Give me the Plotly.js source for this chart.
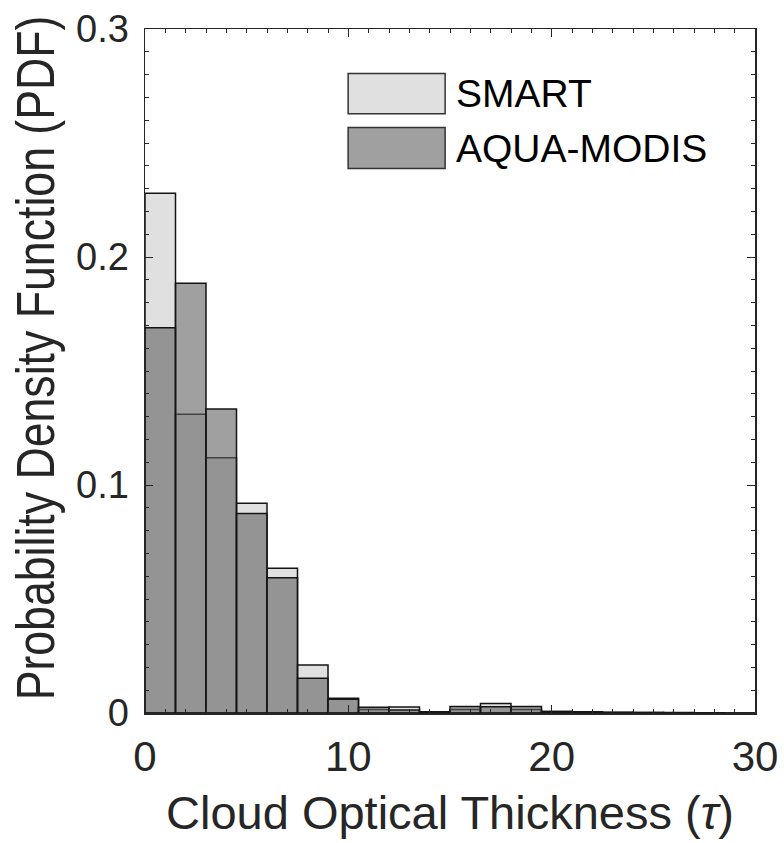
<!DOCTYPE html>
<html>
<head>
<meta charset="utf-8">
<script src="https://cdn.plot.ly/plotly-3.0.1.min.js"></script>
<style>
  html, body { margin: 0; padding: 0; background: #fff; }
  #chart { width: 784px; height: 843px; }
</style>
</head>
<body>
<div id="chart"></div>
<script>
// Histogram bins of cloud optical thickness (bin width 1.5, centres)
const tauBins = [0.75, 2.25, 3.75, 5.25, 6.75, 8.25, 9.75, 11.25, 12.75, 14.25,
                 15.75, 17.25, 18.75, 20.25, 21.75, 23.25, 24.75, 26.25, 27.75, 29.25];
const binWidth = 1.5;

// Probability density per bin
const smartPdf = [0.228, 0.131, 0.112, 0.092, 0.0635, 0.021, 0.0065, 0.0015, 0.0026, 0.0005,
                  0.0015, 0.0042, 0.0015, 0.0007, 0.0006, 0.0003, 0.0002, 0.0002, 0.0001, 0];
const modisPdf = [0.169, 0.1885, 0.1333, 0.0875, 0.0593, 0.0152, 0.006, 0.0025, 0.0013, 0.0005,
                  0.0028, 0.0027, 0.0028, 0.0007, 0.0006, 0.0002, 0.0002, 0.0001, 0.0001, 0];

const seriesNames = ['SMART', 'AQUA-MODIS'];
const xTicks = [0, 10, 20, 30];
const yTicks = [0, 0.1, 0.2, 0.3];

const ink = '#262626';
const fills = ['rgba(203,203,203,0.6)', 'rgba(97,97,97,0.6)'];
const edge = 'rgba(20,20,20,1)';

const traces = [smartPdf, modisPdf].map((vals, i) => ({
  type: 'bar',
  name: seriesNames[i],
  x: tauBins,
  y: vals,
  width: binWidth,
  marker: { color: fills[i], line: { color: edge, width: 1.5 } },
  showlegend: false,
  hoverinfo: 'x+y+name'
}));

// Large legend swatches with labels inside the axes
const legendY = [[0.935, 0.876], [0.856, 0.796]];
const shapes = [];
const annotations = [];
seriesNames.forEach((name, i) => {
  shapes.push({
    type: 'rect', xref: 'paper', yref: 'paper',
    x0: 0.333, x1: 0.492, y0: legendY[i][1], y1: legendY[i][0],
    fillcolor: fills[i], line: { color: '#333', width: 1.5 }
  });
  annotations.push({
    xref: 'paper', yref: 'paper', x: 0.506, y: (legendY[i][0] + legendY[i][1]) / 2,
    xanchor: 'left', yanchor: 'middle', showarrow: false,
    text: name, font: { family: 'Liberation Sans, Arial, sans-serif', size: 39, color: '#000' }
  });
});

const layout = {
  width: 784, height: 843,
  margin: { l: 145, r: 29, t: 29, b: 130 },
  paper_bgcolor: '#fff', plot_bgcolor: '#fff',
  barmode: 'overlay',
  bargap: 0,
  font: { family: 'Liberation Sans, Arial, sans-serif', color: ink },
  xaxis: {
    range: [0, 30], tickvals: xTicks, ticktext: xTicks.map(String),
    ticks: 'inside', ticklen: 8, tickwidth: 1, tickcolor: ink,
    minor: { ticks: 'inside', dtick: 1, ticklen: 4, tickcolor: ink, tickwidth: 1 },
    showline: true, linecolor: ink, linewidth: 1.5, mirror: 'allticks',
    showgrid: false, zeroline: false,
    tickfont: { size: 42, color: ink },
    ticklabelstandoff: 6,
    title: { text: 'Cloud Optical Thickness (<i>τ</i>)', font: { size: 47, color: ink }, standoff: 17 }
  },
  yaxis: {
    range: [0, 0.3], tickvals: yTicks, ticktext: ['0', '0.1', '0.2', '0.3'],
    ticks: 'inside', ticklen: 8, tickwidth: 1, tickcolor: ink,
    minor: { ticks: 'inside', dtick: 0.01, ticklen: 4, tickcolor: ink, tickwidth: 1 },
    showline: true, linecolor: ink, linewidth: 1.5, mirror: 'allticks',
    showgrid: false, zeroline: false,
    tickfont: { size: 38, color: ink },
    ticklabelstandoff: 7,
    title: {
      text: 'Probability Density Function (PDF)',
      font: { size: 54, color: ink },
      standoff: 4
    }
  },
  shapes: shapes,
  annotations: annotations
};

Plotly.newPlot('chart', traces, layout, { displayModeBar: false, staticPlot: true }).then(gd => {
  // Condense the long y-axis title along its own direction so it fits the axis height
  const t = gd.querySelector('.ytitle');
  if (t) {
    const x = parseFloat(t.getAttribute('x'));
    const y = parseFloat(t.getAttribute('y'));
    const natural = t.getComputedTextLength();
    const sx = Math.min(1, 685 / natural);
    const tr = t.getAttribute('transform') || '';
    t.setAttribute('transform',
      'translate(0,-13) ' + tr + ` translate(${x},${y}) scale(${sx},1) translate(${-x},${-y})`);
  }
});
</script>
</body>
</html>
